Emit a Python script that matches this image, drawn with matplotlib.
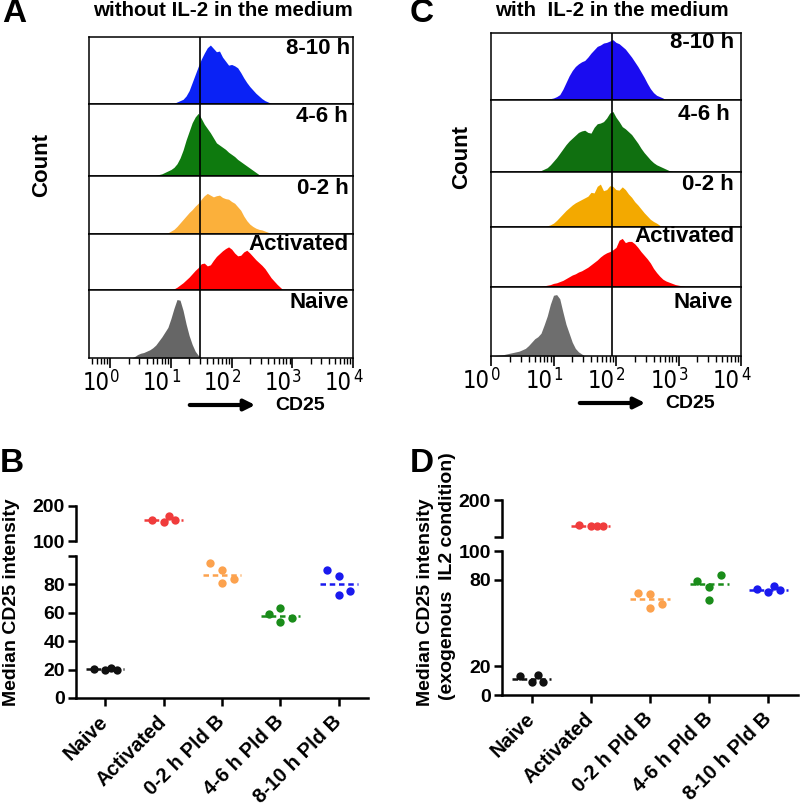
import numpy as np
import matplotlib
matplotlib.use('Agg')
import matplotlib.pyplot as plt
from matplotlib.patches import FancyArrowPatch
from matplotlib.ticker import LogLocator, NullFormatter, FixedLocator, FixedFormatter
from matplotlib import font_manager
import matplotlib.transforms as mtransforms

W, H = 800, 808
plt.rcParams['font.family'] = ['Liberation Sans', 'DejaVu Sans']
plt.rcParams['font.weight'] = 'bold'

_names = {f.name for f in font_manager.fontManager.ttflist}
NARROW = ['Liberation Sans Narrow'] if 'Liberation Sans Narrow' in _names else ['DejaVu Sans']

# ---------------- data ----------------
row_labels = ['8-10 h', '4-6 h', '0-2 h', 'Activated', 'Naive']
bin_step = 0.05  # histogram bin width in log10(CD25)
decades = [0, 1, 2, 3, 4]

# Panel A: without IL-2 (start of each histogram in log10 CD25, counts scaled to row height)
histA_start = [1.00, 0.70, 0.90, 1.00, 0.35]
histA_8_10 = [0, 0.01, 0.03, 0.05, 0.07, 0.12, 0.2, 0.32, 0.44, 0.56, 0.67, 0.76, 0.84, 0.88, 0.83,
              0.78, 0.79, 0.7, 0.64, 0.58, 0.59, 0.57, 0.54, 0.47, 0.39, 0.32, 0.26, 0.21, 0.16, 0.12,
              0.08, 0.05, 0.03, 0.01, 0]
histA_4_6 = [0, 0.01, 0.02, 0.03, 0.05, 0.07, 0.09, 0.12, 0.17, 0.25, 0.36, 0.5, 0.62, 0.74, 0.82,
             0.87, 0.8, 0.72, 0.66, 0.6, 0.53, 0.46, 0.43, 0.4, 0.37, 0.33, 0.3, 0.27, 0.23, 0.2, 0.17,
             0.14, 0.11, 0.08, 0.05, 0.02, 0]
histA_0_2 = [0, 0.02, 0.05, 0.08, 0.13, 0.19, 0.25, 0.31, 0.37, 0.42, 0.48, 0.53, 0.6, 0.66, 0.7,
             0.67, 0.64, 0.66, 0.67, 0.63, 0.61, 0.6, 0.56, 0.53, 0.47, 0.41, 0.31, 0.23, 0.17, 0.13,
             0.1, 0.08, 0.07, 0.05, 0.03, 0.01, 0]
histA_act = [0, 0.02, 0.05, 0.09, 0.13, 0.18, 0.23, 0.29, 0.35, 0.4, 0.47, 0.48, 0.43, 0.45, 0.53,
             0.6, 0.65, 0.7, 0.74, 0.77, 0.73, 0.66, 0.61, 0.62, 0.68, 0.71, 0.66, 0.6, 0.54, 0.49,
             0.44, 0.38, 0.3, 0.22, 0.16, 0.1, 0.05, 0]
histA_naive = [0, 0.02, 0.05, 0.07, 0.08, 0.1, 0.12, 0.15, 0.19, 0.25, 0.31, 0.38, 0.45, 0.58, 0.73,
               0.86, 0.85, 0.7, 0.5, 0.33, 0.2, 0.1, 0.04, 0]
histA = [histA_8_10, histA_4_6, histA_0_2, histA_act, histA_naive]
gateA = 30

# Panel C: with IL-2
histC_start = [0.85, 0.75, 0.85, 0.75, 0.00]
histC_8_10 = [0, 0.01, 0.02, 0.03, 0.05, 0.08, 0.16, 0.26, 0.36, 0.44, 0.5, 0.54, 0.57, 0.59, 0.64,
              0.7, 0.75, 0.8, 0.82, 0.85, 0.86, 0.88, 0.9, 0.86, 0.84, 0.8, 0.76, 0.7, 0.64, 0.57,
              0.5, 0.42, 0.34, 0.25, 0.17, 0.11, 0.07, 0.05, 0.03, 0]
histC_4_6 = [0, 0.02, 0.04, 0.06, 0.1, 0.15, 0.2, 0.26, 0.32, 0.38, 0.43, 0.47, 0.51, 0.55, 0.57,
             0.58, 0.55, 0.54, 0.62, 0.67, 0.68, 0.7, 0.75, 0.82, 0.84, 0.76, 0.7, 0.63, 0.6, 0.56,
             0.52, 0.46, 0.4, 0.33, 0.27, 0.22, 0.17, 0.13, 0.1, 0.08, 0.06, 0.04, 0.02, 0.01, 0]
histC_0_2 = [0, 0.02, 0.04, 0.07, 0.12, 0.18, 0.24, 0.3, 0.35, 0.4, 0.44, 0.47, 0.5, 0.53, 0.56,
             0.63, 0.62, 0.74, 0.78, 0.66, 0.68, 0.75, 0.74, 0.68, 0.67, 0.73, 0.68, 0.6, 0.54, 0.46,
             0.4, 0.33, 0.26, 0.2, 0.14, 0.1, 0.07, 0.03, 0]
histC_act = [0, 0.01, 0.02, 0.03, 0.04, 0.06, 0.07, 0.09, 0.11, 0.14, 0.17, 0.2, 0.22, 0.25, 0.27,
             0.3, 0.33, 0.37, 0.41, 0.45, 0.5, 0.54, 0.57, 0.59, 0.62, 0.66, 0.78, 0.81, 0.74, 0.76,
             0.76, 0.72, 0.66, 0.59, 0.53, 0.47, 0.4, 0.31, 0.24, 0.18, 0.13, 0.1, 0.08, 0.06, 0.04,
             0.03, 0.02, 0.01, 0]
histC_naive = [0, 0.005, 0.01, 0.015, 0.02, 0.03, 0.04, 0.05, 0.06, 0.07, 0.09, 0.11, 0.15, 0.2,
               0.25, 0.28, 0.33, 0.45, 0.58, 0.75, 0.88, 0.89, 0.83, 0.64, 0.46, 0.33, 0.2, 0.11,
               0.06, 0.03, 0]
histC = [histC_8_10, histC_4_6, histC_0_2, histC_act, histC_naive]
gateC = 85

histA_colors = ['#0a22f5', '#0e7a0e', '#fbb03b', '#ff0000', '#666666']
histC_colors = ['#1a0cf0', '#107010', '#f3a900', '#ff0000', '#6e6e6e']

# Panels B / D: median CD25 intensity
groups = ['Naive', 'Activated', '0-2 h Pld B', '4-6 h Pld B', '8-10 h Pld B']
B_values = [[20.5, 19.5, 21.4, 20.0],
            [161, 154, 172, 159],
            [95.3, 90.1, 81.2, 83.5],
            [59.5, 63.5, 53.6, 56.0],
            [89.9, 85.9, 72.5, 75.3]]
D_values = [[12.9, 8.9, 13.6, 8.9],
            [131.8, 129.1, 130.9, 130.0],
            [70.6, 69.9, 60.5, 63.5],
            [79.3, 75.3, 65.9, 83.5],
            [73.6, 71.8, 76.0, 72.9]]
dot_colors = ['#111111', '#f03c3c', '#fca24e', '#1a8c1a', '#1a1aee']

# layout: horizontal spread of points inside each group
B_spread = [[-0.2, 0, 0.1, 0.2], [-0.2, 0, 0.1, 0.2], [-0.2, 0, 0, 0.2], [-0.2, 0, 0, 0.2], [-0.2, 0, 0, 0.2]]
D_spread = [[-0.2, 0, 0.1, 0.2], [-0.2, 0, 0.1, 0.2], [-0.2, 0, 0, 0.2], [-0.2, 0, 0, 0.2], [-0.2, 0, 0.1, 0.2]]

# ---------------- helpers ----------------
fig = plt.figure(figsize=(W / 100, H / 100), dpi=100)
PT = 72 / 100  # points per pixel


def box(x0, y0, x1, y1):
    return [x0 / W, 1 - y1 / H, (x1 - x0) / W, (y1 - y0) / H]


def fx(x):
    return x / W


def fy(y):
    return 1 - y / H


def hist_panel(x0, x1, rows, hists, starts, colors, gate, xmin_log, lab_dx, lab_dy):
    axes = []
    for i in range(5):
        ax = fig.add_axes(box(x0, rows[i], x1, rows[i + 1]))
        vals = np.array(hists[i], dtype=float)
        xs = 10 ** (starts[i] + bin_step * np.arange(len(vals)))
        ax.fill_between(xs, 0, vals, color=colors[i], lw=0)
        ax.set_xscale('log')
        ax.set_xlim(10 ** xmin_log, 10 ** 4)
        ax.set_ylim(0, 1)
        ax.axvline(gate, color='black', lw=1.2)
        for s in ax.spines.values():
            s.set_linewidth(1.1)
        ax.set_yticks([])
        ax.annotate(row_labels[i], xy=(1, 1), xycoords='axes fraction',
                    xytext=(-lab_dx[i] * PT, -lab_dy[i] * PT), textcoords='offset points',
                    ha='right', va='center', fontsize=16, fontweight='bold')
        if i < 4:
            ax.tick_params(axis='x', which='both', bottom=False, labelbottom=False)
        else:
            ax.xaxis.set_minor_locator(LogLocator(base=10, subs=np.arange(2, 10), numticks=20))
            ax.xaxis.set_minor_formatter(NullFormatter())
            ax.set_xticks([10.0 ** d for d in decades])
            ax.set_xticklabels([''] * len(decades))
            ax.tick_params(axis='x', which='major', length=7, width=1.2)
            ax.tick_params(axis='x', which='minor', length=4, width=1.0)
            trans = mtransforms.blended_transform_factory(ax.transData, ax.transAxes)
            for d in decades:
                ax.annotate('10', xy=(10.0 ** d, 0), xycoords=trans,
                            xytext=(-1 * PT, -13 * PT), textcoords='offset points',
                            ha='right', va='top', fontsize=17, family=NARROW,
                            fontweight='normal', fontstretch='condensed')
                ax.annotate(str(d), xy=(10.0 ** d, 0), xycoords=trans,
                            xytext=(0, -10 * PT), textcoords='offset points',
                            ha='left', va='top', fontsize=12, family=NARROW,
                            fontweight='normal', fontstretch='condensed')
        axes.append(ax)
    return axes


def dot_panel(x0, x1, lower_y, upper_y, values, spread, lower_ticks, lower_labels,
              upper_ticks, upper_labels):
    lo = fig.add_axes(box(x0, lower_y[0], x1, lower_y[1]))
    up = fig.add_axes(box(x0, upper_y[0], x1, upper_y[1]))
    for ax, (ymin, ymax) in ((lo, (0, 100)), (up, (100, 200))):
        for g in range(len(groups)):
            vals = np.array(values[g], dtype=float)
            xs = g + np.array(spread[g])
            keep = (vals >= ymin) & (vals <= ymax)
            if keep.any():
                ax.plot(xs[keep], vals[keep], 'o', color=dot_colors[g], ms=6.0, mec='none',
                        clip_on=False, zorder=3)
            med = np.median(vals)
            if ymin <= med <= ymax:
                ax.plot([g - 0.33, g + 0.33], [med, med], color=dot_colors[g], lw=1.8,
                        ls=(0, (2.2, 1.5)), zorder=2)
        ax.set_xlim(-0.5, 4.5)
        ax.set_ylim(ymin, ymax)
        ax.spines['top'].set_visible(False)
        ax.spines['right'].set_visible(False)
        ax.spines['left'].set_linewidth(1.8)
        ax.spines['bottom'].set_linewidth(1.8)
        ax.tick_params(axis='y', length=6, width=1.8, labelsize=14, pad=2)
        ax.tick_params(axis='x', length=6, width=1.8)
    up.spines['bottom'].set_visible(False)
    up.tick_params(axis='x', bottom=False, labelbottom=False)
    up.yaxis.set_major_locator(FixedLocator(upper_ticks))
    up.yaxis.set_major_formatter(FixedFormatter(upper_labels))
    lo.yaxis.set_major_locator(FixedLocator(lower_ticks))
    lo.yaxis.set_major_formatter(FixedFormatter(lower_labels))
    lo.set_xticks(range(len(groups)))
    lo.set_xticklabels(groups, rotation=45, ha='right', va='center', rotation_mode='anchor',
                       fontsize=14.5, fontweight='bold')
    lo.tick_params(axis='x', pad=9)
    for lab in lo.get_yticklabels() + up.get_yticklabels():
        lab.set_fontweight('bold')
    return lo, up


# ---------------- Panels A and C ----------------
rowsA = [37, 104, 176, 234, 290, 358]
hist_panel(89, 353, rowsA, histA, histA_start, histA_colors, gateA, -0.35,
           [3, 5, 4, 4, 4], [12, 13, 12, 11, 12])
rowsC = [33, 100, 172, 227, 287, 356]
hist_panel(491, 741, rowsC, histC, histC_start, histC_colors, gateC, 0.0,
           [7, 11, 7, 6, 8], [10, 15, 12, 10, 15])

fig.text(fx(2), fy(14), 'A', fontsize=24, fontweight='bold', va='center', ha='left')
fig.text(fx(410), fy(14), 'C', fontsize=24, fontweight='bold', va='center', ha='left')
fig.text(fx(223), fy(11), 'without IL-2 in the medium', fontsize=14.8, fontweight='bold', ha='center', va='center')
fig.text(fx(612), fy(11), 'with  IL-2 in the medium', fontsize=14.8, fontweight='bold', ha='center', va='center')
fig.text(fx(42), fy(165), 'Count', fontsize=16, fontweight='bold', rotation=90, ha='center', va='center')
fig.text(fx(462), fy(157), 'Count', fontsize=16, fontweight='bold', rotation=90, ha='center', va='center')

for (a0, a1, ay, tx) in ((187, 258, 405, 275), (577, 648, 403, 665)):
    arr = FancyArrowPatch((fx(a0), fy(ay)), (fx(a1), fy(ay)), transform=fig.transFigure,
                          arrowstyle='-|>', mutation_scale=16, lw=3, color='black')
    fig.add_artist(arr)
    fig.text(fx(tx), fy(ay), 'CD25', fontsize=14, fontweight='bold', ha='left', va='center')

# ---------------- Panel B ----------------
dot_panel(76, 368, (556, 698), (506, 541), B_values, B_spread,
          [0, 20, 40, 60, 80, 100], ['0', '20', '40', '60', '80', ''],
          [100, 200], ['100', '200'])
fig.text(fx(0), fy(464), 'B', fontsize=24, fontweight='bold', va='center', ha='left')
fig.text(fx(12), fy(602), 'Median CD25 intensity', fontsize=14, fontweight='bold',
         rotation=90, ha='center', va='center')

# ---------------- Panel D ----------------
dot_panel(502, 798, (551, 695), (500, 537), D_values, D_spread,
          [0, 20, 80, 100], ['0', '20', '80', '100'],
          [100, 200], ['', '200'])
fig.text(fx(410), fy(464), 'D', fontsize=24, fontweight='bold', va='center', ha='left')
fig.text(fx(425), fy(602), 'Median CD25 intensity', fontsize=14, fontweight='bold',
         rotation=90, ha='center', va='center')
fig.text(fx(447), fy(576), '(exogenous  IL2 condition)', fontsize=14, fontweight='bold',
         rotation=90, ha='center', va='center')

fig.savefig('out.png', dpi=100)
